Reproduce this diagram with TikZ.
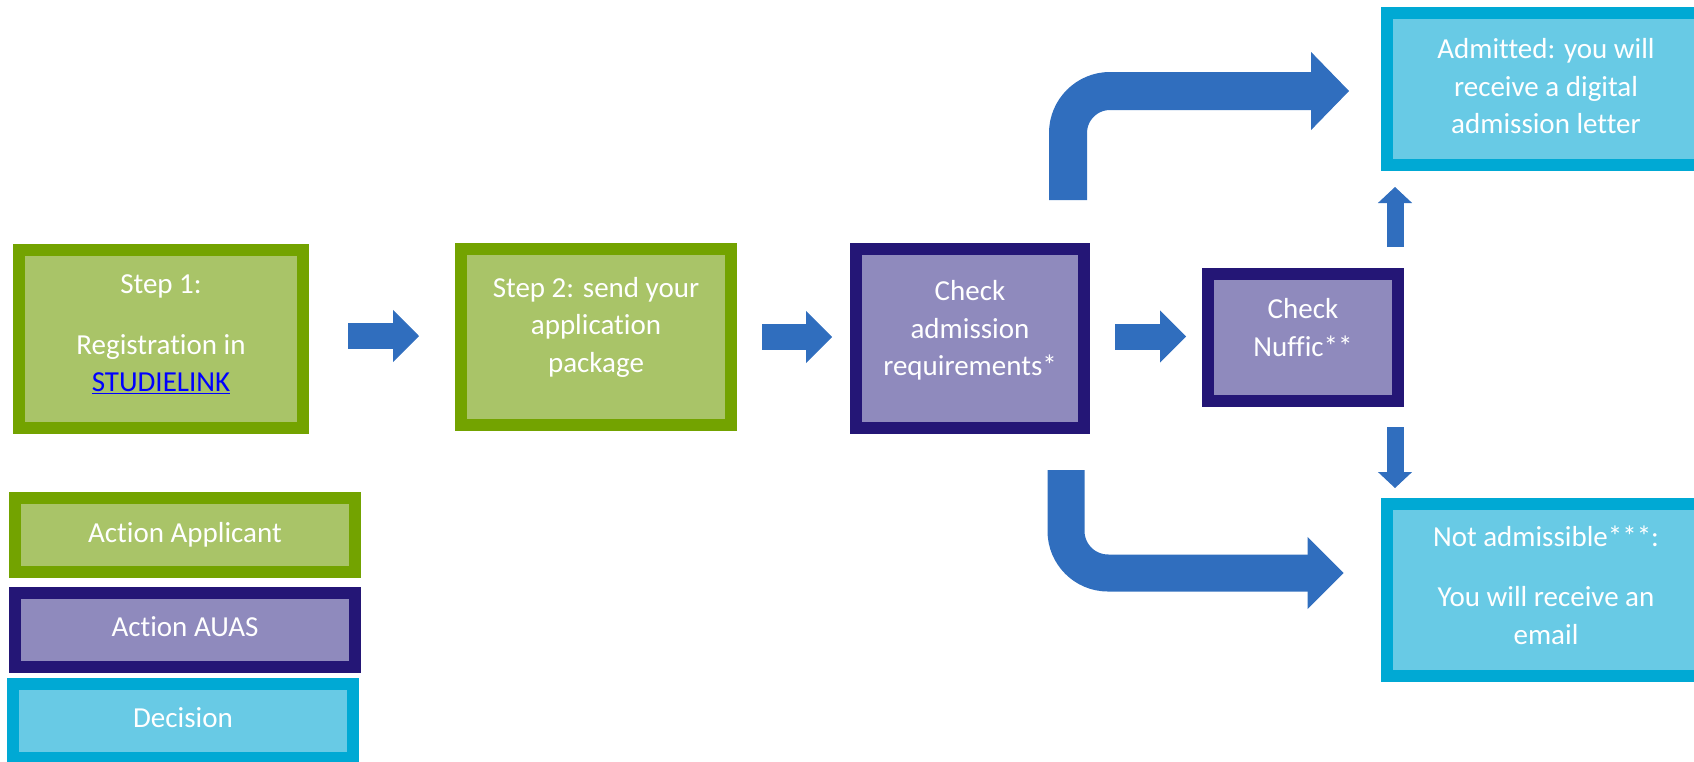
\documentclass[tikz,border=0pt]{standalone}
\usepackage{fontspec}
\setmainfont{Carlito}[Ligatures=NoCommon]
\usepackage{xcolor}
\usepackage{tikz}
\usetikzlibrary{arrows.meta}

\definecolor{applborder}{HTML}{73A300}
\definecolor{applfill}{HTML}{A9C468}
\definecolor{auasborder}{HTML}{241676}
\definecolor{auasfill}{HTML}{8F8ABD}
\definecolor{decborder}{HTML}{00A9D4}
\definecolor{decfill}{HTML}{68CAE5}
\definecolor{flow}{HTML}{306EBE}
\definecolor{linkblue}{HTML}{0000FF}

\begin{document}
\begin{tikzpicture}[x=1pt, y=-1pt,
        box/.style={draw, line width=12pt, inner sep=0pt, text=white, align=center,
            font=\fontsize{29}{37.5}\selectfont},
        applicant/.style={box, draw=applborder, fill=applfill},
        auas/.style={box, draw=auasborder, fill=auasfill},
        decision/.style={box, draw=decborder, fill=decfill},
        legend/.style={minimum width=340pt, minimum height=74pt},
        flowarrow/.style n args={3}{draw=flow, line width=#1,
            -{Triangle[length=#2, width=#3, line width=1pt]}}]
        \useasboundingbox (0,0) rectangle (1694,761);
        \clip (0,0) rectangle (1694,761);

        \node[applicant, minimum width=284pt, minimum height=178pt, text depth=11pt] (step1) at (161,339)
            {Step 1:\\[23pt]Registration in\\\textcolor{linkblue}{\underline{STUDIELINK}}};
        \node[applicant, minimum width=270pt, minimum height=176pt, text depth=25pt] (step2) at (596,337)
            {Step 2: send your\\application\\package};
        \node[auas, minimum width=228pt, minimum height=179pt, text depth=21pt] (reqcheck) at (970,338.5)
            {Check\\admission\\requirements*};
        \node[auas, minimum width=190pt, minimum height=127pt, text depth=20pt] (nuffic) at (1303,337.5)
            {Check\\Nuffic**};
        \node[decision, minimum width=318pt, minimum height=152pt, text depth=6pt] (admitted) at (1546,89)
            {Admitted: you will\\receive a digital\\admission letter};
        \node[decision, minimum width=319pt, minimum height=172pt, text depth=10pt] (notadmitted) at (1546,590)
            {Not admissible***:\\[23pt]You will receive an\\email};

        % legend
        \node[applicant, legend] (legappl) at (185,535) {Action Applicant};
        \node[auas, legend, text depth=6pt] (legauas) at (185,630) {Action AUAS};
        \node[decision, legend, text depth=7pt] (legdec) at (183,721) {Decision};

        \draw[flowarrow={26pt}{26pt}{52pt}, shorten <=39pt, shorten >=36pt]
            ([yshift=3pt]step1.east) -- ([yshift=3pt]step1.east -| step2.west);
        \draw[flowarrow={26pt}{26pt}{52pt}, shorten <=25pt, shorten >=18pt]
            (step2.east) -- (step2.east -| reqcheck.west);
        \draw[flowarrow={26pt}{26pt}{52pt}, shorten <=25pt, shorten >=16pt]
            ([yshift=2pt]reqcheck.east) -- ([yshift=2pt]reqcheck.east -| nuffic.west);
        \draw[flowarrow={38pt}{38pt}{78pt}, rounded corners=42pt, shorten <=43pt, shorten >=32pt]
            ([xshift=-22pt]reqcheck.north east) |- ([yshift=-2pt]admitted.west);
        \draw[flowarrow={37pt}{36pt}{72pt}, rounded corners=42pt, shorten <=36pt, shorten >=37pt]
            ([xshift=-24pt]reqcheck.south east) |- ([yshift=17pt]notadmitted.west);
        \draw[flowarrow={17pt}{16pt}{34pt}, shorten <=21pt, shorten >=16pt]
            ([xshift=-9pt]nuffic.north east) -- ([xshift=-9pt]nuffic.north east |- admitted.south);
        \draw[flowarrow={17pt}{16pt}{34pt}, shorten <=20pt, shorten >=10pt]
            ([xshift=-9pt]nuffic.south east) -- ([xshift=-9pt]nuffic.south east |- notadmitted.north);
    \end{tikzpicture}
\end{document}
